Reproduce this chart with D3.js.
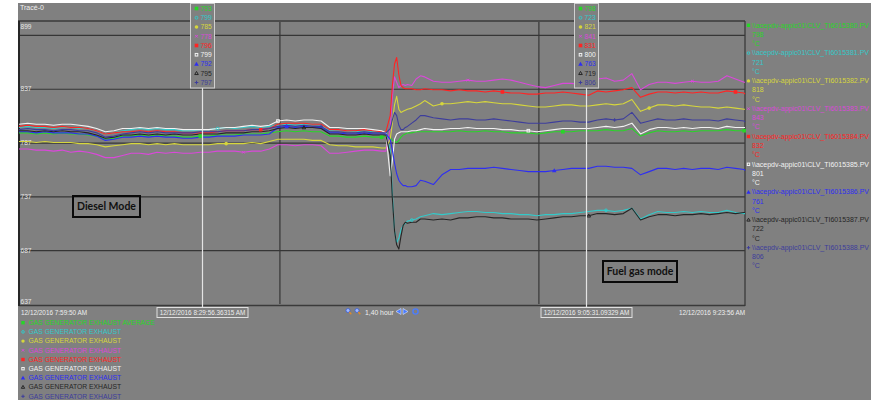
<!DOCTYPE html>
<html>
<head>
<meta charset="utf-8">
<script src="https://cdn.jsdelivr.net/npm/d3@7"></script>
<style>
  html, body { margin: 0; padding: 0; background: #ffffff; }
  svg { display: block; font-family: "Liberation Sans", Arial, sans-serif; }
</style>
</head>
<body>
<svg id="chart" width="871" height="402"></svg>
<script>
// ---- trend data (minutes after the start of the window, values in °C) ----
const startTime = new Date(2016, 11, 12, 7, 59, 50);
const minutes = [
  0,1,2,3,4,5,6,7,8,9,10,11,12,13,14,15,16,17,18,19,20,21,22,23,24,25,26,27,28,29,30,31,32,33,34,35,36,37,38,39,40,41,42,
  42.5,43,43.25,43.5,43.75,44,44.25,44.5,44.75,45,45.5,46,46.5,47,
  48,49,50,51,52,53,54,55,56,57,58,59,60,61,62,63,64,65,66,67,68,69,70,71,72,73,74,75,76,77,78,79,80,81,82,83,84,
  84.1
];

const ti380 = [796,796,795,796,795,796,795,795,794,793,790,791,793,793,794,793,794,793,793,792,792,793,793,794,794,794,795,795,795,796,797,798,797,798,797,797,793,793,792,792,793,792,792,
  793,792,789,788,787,789,792,794,795,796,796,797,797,797,
  797,797,797,798,797,797,798,797,797,796,796,796,795,796,797,797,797,798,798,798,799,798,798,800,793,796,798,797,797,798,797,798,798,798,799,798,798,
  798];
const ti381 = [801,802,801,801,800,801,801,800,800,798,795,796,798,799,800,799,800,799,799,798,798,799,799,800,801,800,801,802,801,802,803,804,803,804,804,803,798,799,798,797,798,797,797,
  797,780,740,705,694,698,706,710,712,714,715,716,718,719,
  721,720,721,722,723,723,722,722,721,721,720,720,719,720,720,721,721,722,723,724,724,723,724,726,716,720,723,722,722,723,722,723,722,722,724,722,721,
  721];
const ti382 = [788,788,787,788,787,787,787,786,786,785,783,784,785,786,786,785,786,785,786,785,785,785,785,786,786,786,786,787,786,788,790,790,790,790,789,789,785,784,784,783,783,783,782,
  782,790,805,822,830,818,815,816,817,818,819,821,823,826,
  821,823,823,824,825,824,825,824,823,823,822,821,820,820,821,822,822,821,821,822,823,822,823,827,816,819,822,822,821,822,821,820,820,819,820,819,818,
  818];
const ti383 = [781,781,780,780,779,780,778,779,778,776,773,773,775,777,777,776,778,777,778,777,777,778,778,779,779,779,778,779,779,781,785,785,784,785,785,784,777,777,778,779,780,780,779,
  779,800,830,848,843,838,840,841,840,841,840,846,849,848,
  844,843,843,844,845,844,844,845,846,845,843,841,839,838,840,842,842,841,841,846,847,844,845,851,836,841,843,843,842,843,844,843,843,844,849,846,843,
  843];
const ti384 = [802,803,802,802,801,802,801,801,800,798,795,796,797,797,798,797,798,797,797,796,796,796,796,797,798,798,798,799,799,800,804,805,805,805,804,804,799,799,798,798,799,798,797,
  797,812,840,860,866,850,840,838,837,837,837,836,836,837,
  836,836,835,836,835,835,834,835,834,833,833,832,832,833,833,834,833,832,831,835,834,835,836,838,829,832,834,834,833,834,833,834,833,833,835,834,833,
  832];
const ti385 = [804,805,804,804,803,804,804,803,802,800,797,798,800,800,801,800,801,800,800,799,799,799,799,800,801,801,802,803,802,803,807,808,807,808,808,807,801,801,800,800,800,799,798,
  796,756,770,790,795,796,797,797,797,797,798,798,799,800,
  799,799,800,800,801,800,800,800,799,799,798,798,797,798,799,800,800,800,800,801,802,801,802,805,795,799,801,801,800,801,800,801,801,800,802,801,801,
  801];
const ti386 = [797,797,796,797,796,796,796,795,795,793,789,790,792,792,793,792,793,792,792,791,791,792,792,793,793,793,794,794,794,795,801,802,801,802,801,801,796,796,795,795,796,795,795,
  795,790,780,768,758,752,749,747,747,746,746,747,752,751,
  748,757,762,762,763,763,763,764,763,762,761,760,760,760,761,762,763,763,763,765,765,764,764,763,757,760,763,763,762,763,762,763,763,762,764,763,762,
  761];
const ti387 = [798,798,797,798,797,798,797,797,796,794,791,792,794,794,795,794,795,794,795,794,794,795,795,795,796,796,796,797,797,798,800,801,800,801,801,800,795,795,794,794,795,794,794,
  794,775,735,705,692,688,700,710,713,712,713,713,716,716,
  715,716,715,717,717,718,718,717,717,716,716,716,715,716,717,718,718,719,719,721,721,720,721,726,715,718,720,720,719,720,720,721,720,721,722,721,722,
  722];
const ti388 = [799,800,799,799,798,799,799,798,798,796,792,793,795,796,797,796,797,796,796,796,796,797,797,797,798,798,798,799,799,800,802,803,802,803,802,802,797,797,796,796,797,796,796,
  796,800,808,815,812,803,799,799,801,802,805,808,812,812,
  810,809,808,809,809,808,808,809,808,807,806,805,805,805,806,807,807,806,806,808,809,808,809,815,805,807,809,808,808,809,808,808,808,807,809,808,807,
  806];

const seriesValues = [ti380, ti381, ti382, ti383, ti384, ti385, ti386, ti387, ti388];
const tagNames = [
  "\\\\acepdv-appic01\\CLV_TI6015380.PV", "\\\\acepdv-appic01\\CLV_TI6015381.PV",
  "\\\\acepdv-appic01\\CLV_TI6015382.PV", "\\\\acepdv-appic01\\CLV_TI6015383.PV",
  "\\\\acepdv-appic01\\CLV_TI6015384.PV", "\\\\acepdv-appic01\\CLV_TI6015385.PV",
  "\\\\acepdv-appic01\\CLV_TI6015386.PV", "\\\\acepdv-appic01\\CLV_TI6015387.PV",
  "\\\\acepdv-appic01\\CLV_TI6015388.PV"
];
const descriptions = [
  "GAS GENERATOR EXHAUST AVERAGE", "GAS GENERATOR EXHAUST", "GAS GENERATOR EXHAUST",
  "GAS GENERATOR EXHAUST", "GAS GENERATOR EXHAUST", "GAS GENERATOR EXHAUST",
  "GAS GENERATOR EXHAUST", "GAS GENERATOR EXHAUST", "GAS GENERATOR EXHAUST"
];
const currentValues = [798, 721, 818, 843, 832, 801, 761, 722, 806];
const unitLabel = "°C";

// cursors: position (minutes into the window), stamp text and the values they read
const cursorMinutes = [21.2, 65.68];
const cursorStamps = ["12/12/2016 8:29:56.36315 AM", "12/12/2016 9:05:31.09329 AM"];
const cursorValues = [
  [793, 799, 785, 778, 796, 799, 792, 795, 797],
  [798, 723, 821, 841, 831, 800, 763, 719, 806]
];

// value axis
const yDomain = [637, 899];
const yLabelValues = [899, 837, 787, 737, 687, 637];
const yGridValues = [887, 837, 787, 737, 687];
const xGridTimes = [new Date(2016, 11, 12, 8, 30, 0), new Date(2016, 11, 12, 9, 0, 0)];
const startLabel = "12/12/2016 7:59:50 AM";
const endLabel = "12/12/2016 9:23:56 AM";
const spanLabel = "1,40 hour";
const traceTitle = "Tracé-0";
const markerSpacing = [21, 22.7, 24.4, 26.1, 27.8, 29.5, 31.2, 32.9, 34.6];

// ---- styling ----
const colors = ["#27d627", "#33c9c9", "#d6d63c", "#da48da", "#ff2424", "#f2f2f2", "#2e2ef2", "#262626", "#3d3d9c"];
const symbols = ["sqFill", "circOpen", "circFill", "cross", "sqFill", "sqOpen", "triFill", "triOpen", "plus"];
const panelGray = "#808080";
const gridColor = "#363636";

const W = 871, H = 402;
const P = { left: 19, right: 745, top: 22, bottom: 304 };

const svg = d3.select("#chart");
const endTime = new Date(+startTime + minutes[minutes.length - 1] * 60000);
const toTime = m => new Date(+startTime + m * 60000);

const x = d3.scaleTime().domain([startTime, endTime]).range([P.left, P.right]);
const y = d3.scaleLinear().domain(yDomain).range([P.bottom, P.top]);

// panel
svg.append("rect").attr("x", 18).attr("y", 3).attr("width", W - 18).attr("height", 397).attr("fill", panelGray);

// grid lines
svg.append("g")
  .attr("transform", `translate(${P.left},0)`)
  .call(d3.axisRight(y).tickValues(yGridValues).tickSize(P.right - P.left).tickFormat(""))
  .call(g => g.select(".domain").remove())
  .call(g => g.selectAll("line").attr("stroke", gridColor).attr("stroke-width", 1.2));
svg.append("g")
  .attr("transform", `translate(0,${P.bottom})`)
  .call(d3.axisBottom(x).tickValues(xGridTimes).tickSize(-(P.bottom - P.top)).tickFormat(""))
  .call(g => g.select(".domain").remove())
  .call(g => g.selectAll("line").attr("stroke", gridColor).attr("stroke-width", 1.2));

// frame
const frame = svg.append("g").attr("fill", "none");
frame.append("line").attr("x1", 18).attr("x2", P.right).attr("y1", P.top - 1).attr("y2", P.top - 1).attr("stroke", "#3a3a3a").attr("stroke-width", 1.3);
frame.append("line").attr("x1", P.left).attr("x2", P.right).attr("y1", P.bottom + 1.5).attr("y2", P.bottom + 1.5).attr("stroke", "#3a3a3a").attr("stroke-width", 1.3);
frame.append("line").attr("x1", P.left).attr("x2", P.left).attr("y1", P.top - 1).attr("y2", P.bottom + 2).attr("stroke", "#262626").attr("stroke-width", 2);
frame.append("line").attr("x1", P.right).attr("x2", P.right).attr("y1", P.top - 1).attr("y2", P.bottom + 2).attr("stroke", "#3a3a3a").attr("stroke-width", 1.3);

// value labels along the left edge
svg.append("g")
  .attr("transform", `translate(${P.left},0)`)
  .call(d3.axisRight(y).tickValues(yLabelValues).tickSize(0).tickPadding(1.5).tickFormat(d3.format("d")))
  .call(g => g.select(".domain").remove())
  .call(g => g.selectAll("text")
    .attr("fill", "#e6e6e6").attr("font-size", 6.6)
    .attr("dy", d => d === yDomain[1] ? "0.95em" : (d === yDomain[0] ? "-0.1em" : "0.3em")));

// marker painter
function marker(g, kind, cx, cy, color, s) {
  const h = s / 2;
  if (kind === "sqFill") g.append("rect").attr("x", cx - h).attr("y", cy - h).attr("width", s).attr("height", s).attr("fill", color);
  else if (kind === "sqOpen") g.append("rect").attr("x", cx - h + 0.5).attr("y", cy - h + 0.5).attr("width", s - 1).attr("height", s - 1).attr("fill", "none").attr("stroke", color).attr("stroke-width", 1);
  else if (kind === "circFill") g.append("circle").attr("cx", cx).attr("cy", cy).attr("r", h).attr("fill", color);
  else if (kind === "circOpen") g.append("circle").attr("cx", cx).attr("cy", cy).attr("r", h - 0.4).attr("fill", "none").attr("stroke", color).attr("stroke-width", 1);
  else if (kind === "triFill") g.append("path").attr("d", `M${cx},${cy - h - 0.5}L${cx + h + 0.5},${cy + h}L${cx - h - 0.5},${cy + h}Z`).attr("fill", color);
  else if (kind === "triOpen") g.append("path").attr("d", `M${cx},${cy - h}L${cx + h},${cy + h - 0.5}L${cx - h},${cy + h - 0.5}Z`).attr("fill", "none").attr("stroke", color).attr("stroke-width", 1);
  else if (kind === "cross") g.append("path").attr("d", `M${cx - h + 0.5},${cy - h + 0.5}L${cx + h - 0.5},${cy + h - 0.5}M${cx + h - 0.5},${cy - h + 0.5}L${cx - h + 0.5},${cy + h - 0.5}`).attr("stroke", color).attr("stroke-width", 1);
  else if (kind === "plus") g.append("path").attr("d", `M${cx - h},${cy}L${cx + h},${cy}M${cx},${cy - h}L${cx},${cy + h}`).attr("stroke", color).attr("stroke-width", 1);
}

// trends
const line = d3.line().x(d => x(d.t)).y(d => y(d.v));
const traces = svg.append("g").attr("fill", "none");
const seriesPoints = seriesValues.map(vals => vals.map((v, i) => ({ t: toTime(minutes[i]), v, m: minutes[i] })));
seriesPoints.forEach((pts, i) => {
  traces.append("path").datum(pts).attr("d", line)
    .attr("stroke", colors[i]).attr("stroke-width", 1.1).attr("stroke-linejoin", "round");
});

// trace markers, placed on the nearest sample at each spacing multiple
const markLayer = svg.append("g");
const bis = d3.bisector(d => d.m).center;
seriesPoints.forEach((pts, i) => {
  for (let k = 1; k * markerSpacing[i] < minutes[minutes.length - 1]; k++) {
    const p = pts[bis(pts, k * markerSpacing[i])];
    marker(markLayer, symbols[i], x(p.t), y(p.v), colors[i], 3.6);
  }
});

// title
svg.append("text").attr("x", 20).attr("y", 10).attr("fill", "#f0f0f0").attr("font-size", 7).text(traceTitle);

// cursors
cursorMinutes.forEach((cm, c) => {
  const cx = Math.round(x(toTime(cm))) + 0.5;
  const g = svg.append("g");
  g.append("line").attr("x1", cx).attr("x2", cx).attr("y1", 88).attr("y2", 307)
    .attr("stroke", "#e4e4e4").attr("stroke-width", 1.2);
  const bw = 24, bx = cx - bw / 2;
  g.append("rect").attr("x", bx).attr("y", 3.5).attr("width", bw).attr("height", 84.5)
    .attr("fill", panelGray).attr("stroke", "#d0d0d0").attr("stroke-width", 1);
  cursorValues[c].forEach((v, i) => {
    const ry = 8.5 + i * 9.25;
    marker(g, symbols[i], bx + 6, ry, colors[i], 3.6);
    g.append("text").attr("x", bx + 10).attr("y", ry + 2.4).attr("font-size", 6.8)
      .attr("fill", colors[i]).text(v);
  });
  // time stamp box under the axis
  const tw = 91;
  g.append("rect").attr("x", cx - tw / 2).attr("y", 307.5).attr("width", tw).attr("height", 10)
    .attr("fill", panelGray).attr("stroke", "#e0e0e0").attr("stroke-width", 1);
  g.append("text").attr("x", cx).attr("y", 315.3).attr("text-anchor", "middle")
    .attr("font-size", 6.4).attr("fill", "#eeeeee").text(cursorStamps[c]);
});

// window start / end stamps
svg.append("text").attr("x", 21).attr("y", 315.3).attr("font-size", 6.4).attr("fill", "#eeeeee").text(startLabel);
svg.append("text").attr("x", P.right).attr("y", 315.3).attr("text-anchor", "end").attr("font-size", 6.4).attr("fill", "#eeeeee").text(endLabel);

// time span controls
const nav = svg.append("g");
[348, 357].forEach(nx => {
  nav.append("circle").attr("cx", nx).attr("cy", 310.5).attr("r", 2).attr("fill", "#9fb8ff").attr("stroke", "#3a5fd8").attr("stroke-width", 0.8);
  nav.append("line").attr("x1", nx + 1.3).attr("y1", 312).attr("x2", nx + 3.3).attr("y2", 314.2).attr("stroke", "#e08a2a").attr("stroke-width", 1.4);
});
nav.append("text").attr("x", 365).attr("y", 315).attr("font-size", 6.8).attr("fill", "#eeeeee").text(spanLabel);
nav.append("path").attr("d", "M396,311.5L401,308.5L401,314.5Z").attr("fill", "#4a7cff").attr("stroke", "#dfe8ff").attr("stroke-width", 0.6);
nav.append("path").attr("d", "M408,311.5L403,308.5L403,314.5Z").attr("fill", "#4a7cff").attr("stroke", "#dfe8ff").attr("stroke-width", 0.6);
nav.append("circle").attr("cx", 415.5).attr("cy", 311.5).attr("r", 2.6).attr("fill", "none").attr("stroke", "#4a7cff").attr("stroke-width", 1.4);

// right-hand legend
const rl = svg.append("g");
tagNames.forEach((name, i) => {
  const ry = 27.5 + i * 27.8;
  marker(rl, symbols[i], 748.5, ry - 2.2, colors[i], 3.4);
  rl.append("text").attr("x", 752).attr("y", ry).attr("font-size", 7).attr("fill", colors[i]).text(name);
  rl.append("text").attr("x", 752).attr("y", ry + 9.2).attr("font-size", 7).attr("fill", colors[i]).text(currentValues[i]);
  rl.append("text").attr("x", 752).attr("y", ry + 18.4).attr("font-size", 7).attr("fill", colors[i]).text(unitLabel);
});

// bottom legend
const bl = svg.append("g");
descriptions.forEach((d, i) => {
  const ry = 325 + i * 9.2;
  marker(bl, symbols[i], 23, ry - 2.3, colors[i], 3.4);
  bl.append("text").attr("x", 28.5).attr("y", ry).attr("font-size", 6.8).attr("fill", colors[i]).text(d);
});

// operating-mode notes
const notes = [
  { text: "Diesel Mode", x: 73, y: 196, w: 67, h: 21 },
  { text: "Fuel gas mode", x: 603, y: 261, w: 74, h: 21 }
];
notes.forEach(n => {
  svg.append("rect").attr("x", n.x).attr("y", n.y).attr("width", n.w).attr("height", n.h)
    .attr("fill", "none").attr("stroke", "#0a0a0a").attr("stroke-width", 2);
  svg.append("text").attr("x", n.x + n.w / 2).attr("y", n.y + n.h / 2 + 3.6).attr("text-anchor", "middle")
    .attr("font-family", "Lato, 'Open Sans', sans-serif").attr("font-weight", "bold").attr("font-size", 10.5)
    .attr("fill", "#111111").text(n.text);
});
</script>
</body>
</html>
